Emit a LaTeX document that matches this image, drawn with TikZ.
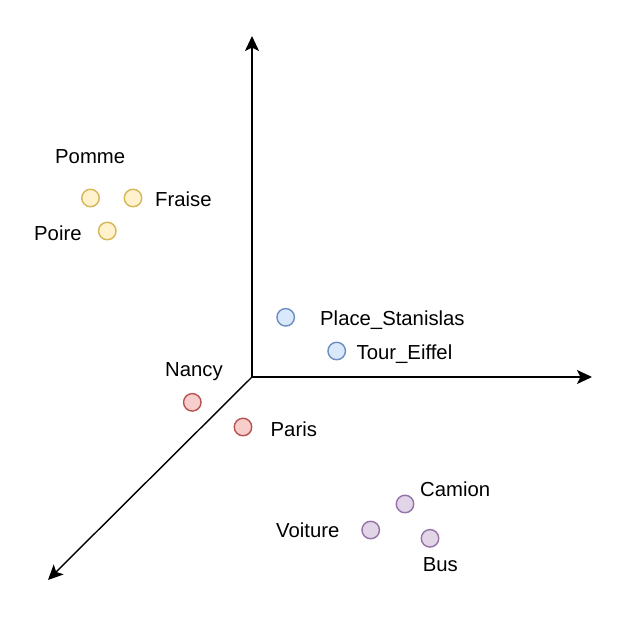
\documentclass[tikz,border=0pt]{standalone}
\usepackage{fontspec}
\setmainfont{Liberation Sans}
\usetikzlibrary{arrows.meta}
\definecolor{yfill}{HTML}{FFF2CC}\definecolor{ydraw}{HTML}{D6B656}
\definecolor{bfill}{HTML}{DAE8FC}\definecolor{bdraw}{HTML}{6C8EBF}
\definecolor{rfill}{HTML}{F8CECC}\definecolor{rdraw}{HTML}{B85450}
\definecolor{pfill}{HTML}{E1D5E7}\definecolor{pdraw}{HTML}{9673A6}
\begin{document}
\begin{tikzpicture}[x=1pt,y=-1pt,
  pt/.style={circle,minimum size=17.5pt,inner sep=0pt,line width=1.4pt},
  yel/.style={pt,fill=yfill,draw=ydraw},
  blu/.style={pt,fill=bfill,draw=bdraw},
  red/.style={pt,fill=rfill,draw=rdraw},
  pur/.style={pt,fill=pfill,draw=pdraw},
  lbl/.style={anchor=base west,inner sep=0pt,font=\fontsize{20.3}{24}\selectfont},
  axis/.style={line width=1.4pt,-{Stealth[length=15pt,width=14pt,inset=3.5pt]}}]
\useasboundingbox (0,0) rectangle (642,616);
\fill[white] (0,0) rectangle (642,616);
% axes
\coordinate (O) at (252,377);
\coordinate (Xe) at (592,377);
\coordinate (Ye) at (252,36);
\coordinate (Ze) at (48,580);
\draw[axis] (O) -- (Xe);
\draw[axis] (O) -- (Ye);
\draw[axis] (O) -- (Ze);
% fruits
\node[yel] (pomme) at (90.5,198) {};
\node[yel] (fraise) at (133,198) {};
\node[yel] (poire) at (107.3,231) {};
\node[lbl] (lpomme) at (55,163) {Pomme};
\node[lbl] (lfraise) at (155,206) {Fraise};
\node[lbl] (lpoire) at (34,240) {Poire};
% monuments
\node[blu] (place) at (285.7,317.3) {};
\node[blu] (tour) at (336.7,351) {};
\node[lbl] (lplace) at (320,325) {Place\_Stanislas};
\node[lbl] (ltour) at (356.5,359) {Tour\_Eiffel};
% villes
\node[red] (nancy) at (192.3,402.3) {};
\node[red] (paris) at (243,427) {};
\node[lbl] (lnancy) at (165,376) {Nancy};
\node[lbl] (lparis) at (270.5,436) {Paris};
% vehicules
\node[pur] (voiture) at (370.7,530) {};
\node[pur] (camion) at (405,504) {};
\node[pur] (bus) at (430,538.3) {};
\node[lbl] (lcamion) at (420,496) {Camion};
\node[lbl] (lvoiture) at (276,537.5) {Voiture};
\node[lbl] (lbus) at (422.7,571.5) {Bus};
\end{tikzpicture}
\end{document}
